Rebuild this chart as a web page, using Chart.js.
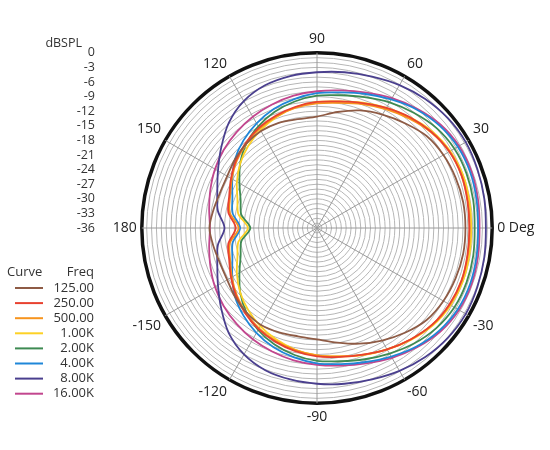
<!DOCTYPE html>
<html>
<head>
<meta charset="utf-8">
<script src="https://cdn.jsdelivr.net/npm/chart.js@4.4.1/dist/chart.umd.min.js"></script>
<style>
html,body{margin:0;padding:0;background:#fff;}
#wrap{width:550px;height:450px;position:relative;}
</style>
</head>
<body>
<div id="wrap"><canvas id="c"></canvas></div>
<script>
// Angle categories (degrees), clockwise from the top of the plot
const angles = [90,80,70,60,50,40,30,20,10,0,-10,-20,-30,-40,-50,-60,-70,-80,-90,-100,-110,-120,-130,-140,-150,-160,-170,180,170,160,150,140,130,120,110,100];
// Radial tick labels (dBSPL)
const dbTicks = [0,-3,-6,-9,-12,-15,-18,-21,-24,-27,-30,-33,-36];
// Frequency labels
const freqs = ['125.00','250.00','500.00','1.00K','2.00K','4.00K','8.00K','16.00K'];
// Series values (dBSPL), in the order of `angles`
const f125  = [-13.1,-11.8,-10.3,-9.1,-7.9,-6.6,-6.0,-5.7,-5.5,-5.5,-5.5,-5.7,-6.0,-6.6,-7.9,-9.3,-10.7,-12.1,-13.1,-13.4,-13.2,-13.0,-13.4,-14.0,-14.7,-14.8,-14.4,-13.9,-14.4,-14.8,-14.7,-14.0,-13.4,-13.0,-13.0,-13.3];
const f250  = [-10.1,-9.6,-8.7,-7.5,-6.3,-5.3,-4.6,-4.4,-4.6,-4.7,-4.6,-4.4,-4.6,-5.1,-6.1,-7.2,-8.3,-9.1,-9.6,-10.3,-11.1,-12.0,-13.1,-14.3,-15.6,-16.8,-17.5,-19.3,-17.5,-16.8,-15.6,-14.3,-13.2,-12.2,-11.4,-10.7];
const f500  = [-10.4,-9.9,-8.9,-7.8,-6.6,-5.4,-4.6,-4.4,-4.5,-4.6,-4.5,-4.4,-4.5,-5.1,-6.1,-7.2,-8.3,-9.2,-9.8,-10.5,-11.3,-12.2,-13.3,-14.5,-15.8,-17.0,-17.8,-19.9,-17.8,-17.0,-15.8,-14.5,-13.4,-12.4,-11.6,-10.9];
const f1k   = [-10.1,-9.6,-8.6,-7.5,-6.3,-5.1,-4.4,-4.1,-4.2,-4.3,-4.2,-4.1,-4.3,-4.9,-6.0,-7.2,-8.2,-9.2,-9.8,-10.6,-11.6,-12.7,-14.0,-15.4,-17.0,-18.6,-19.6,-21.8,-19.6,-18.6,-17.0,-15.4,-14.0,-12.8,-11.7,-10.8];
const f2k   = [-8.8,-8.3,-7.4,-6.2,-5.1,-4.0,-3.4,-3.3,-3.4,-3.6,-3.4,-3.3,-3.4,-4.0,-5.0,-6.2,-7.3,-8.2,-8.7,-9.5,-10.5,-11.8,-13.4,-15.4,-17.6,-19.3,-20.2,-22.3,-20.2,-19.3,-17.6,-15.4,-13.4,-11.9,-10.6,-9.6];
const f4k   = [-8.3,-7.7,-6.7,-5.5,-4.2,-3.2,-2.6,-2.5,-2.7,-2.9,-2.7,-2.5,-2.6,-3.2,-4.2,-5.5,-6.7,-7.6,-8.2,-9.0,-9.9,-11.1,-12.5,-14.0,-15.9,-17.5,-18.4,-20.2,-18.4,-17.5,-15.9,-14.0,-12.5,-11.2,-10.0,-9.1];
const f8k   = [-4.0,-3.5,-2.9,-2.1,-1.4,-0.9,-0.7,-0.9,-1.1,-1.3,-1.1,-0.9,-0.7,-0.9,-1.4,-2.1,-2.9,-3.5,-4.0,-4.4,-4.9,-6.0,-7.8,-10.3,-12.5,-14.2,-15.3,-17.0,-15.3,-14.2,-12.5,-10.3,-7.8,-5.9,-4.8,-4.3];
const f16k  = [-7.9,-7.3,-6.4,-5.2,-4.0,-2.9,-2.3,-2.2,-2.4,-2.6,-2.4,-2.2,-2.3,-2.9,-4.0,-5.2,-6.4,-7.3,-7.9,-8.4,-9.0,-9.6,-10.3,-11.0,-11.8,-12.7,-13.5,-14.0,-13.5,-12.7,-11.8,-11.0,-10.3,-9.6,-9.0,-8.4];

const seriesValues = [f125,f250,f500,f1k,f2k,f4k,f8k,f16k];
const colors = ['#8e5b45','#e8412f','#f7941d','#fdd125','#3e8a52','#1f87d8','#4a3f8e','#c2468e'];

const datasets = seriesValues.map((vals, i) => ({
  label: freqs[i],
  data: vals,
  borderColor: colors[i],
  backgroundColor: colors[i],
  borderWidth: 1.8,
  fill: false,
  pointRadius: 0,
  pointHoverRadius: 0,
  tension: 0.3
}));

const sideText = {
  id: 'sideText',
  afterDraw(chart) {
    const r = chart.scales.r;
    const ctx = chart.ctx;
    ctx.save();
    ctx.fillStyle = '#333';
    ctx.font = '12.5px "Open Sans"';
    ctx.textBaseline = 'middle';
    ctx.textAlign = 'right';
    dbTicks.forEach(v => {
      ctx.fillText(String(v), 95, r.yCenter - r.getDistanceFromCenterForValue(v));
    });
    ctx.fillText('dBSPL', 82, r.yCenter - r.getDistanceFromCenterForValue(0) - 9);
    // legend
    ctx.font = '13px "Open Sans"';
    ctx.textAlign = 'left';
    ctx.fillText('Curve', 7, 272);
    ctx.textAlign = 'right';
    ctx.fillText('Freq', 94, 272);
    chart.data.datasets.forEach((ds, i) => {
      const y = 288 + i * 15.1;
      ctx.strokeStyle = ds.borderColor;
      ctx.lineWidth = 2;
      ctx.beginPath();
      ctx.moveTo(15, y);
      ctx.lineTo(43, y);
      ctx.stroke();
      ctx.fillText(ds.label, 94, y);
    });
    ctx.restore();
  }
};

new Chart(document.getElementById('c'), {
  type: 'radar',
  data: { labels: angles, datasets: datasets },
  options: {
    responsive: true,
    maintainAspectRatio: false,
    animation: false,
    layout: { padding: { top: 32, bottom: 24, left: 99, right: 0 } },
    plugins: { legend: { display: false }, tooltip: { enabled: false } },
    elements: { line: { borderJoinStyle: 'round' } },
    scales: {
      r: {
        min: -36,
        max: 0,
        ticks: { display: false, stepSize: 1 },
        grid: {
          circular: true,
          color: (c) => (c.tick && c.tick.value === 0) ? '#111' : '#b6b6b6',
          lineWidth: (c) => (c.tick && c.tick.value === 0) ? 3.5 : 1
        },
        angleLines: {
          display: true,
          color: '#9a9a9a',
          lineWidth: (c) => (angles[c.index] % 30 === 0) ? 1 : 0
        },
        pointLabels: {
          display: true,
          padding: 5,
          color: '#222',
          font: { family: 'Open Sans', size: 14 },
          callback: (v) => v === 0 ? '0 Deg' : (v % 30 === 0 ? String(v) : '')
        }
      }
    }
  },
  plugins: [sideText]
});
</script>
</body>
</html>
